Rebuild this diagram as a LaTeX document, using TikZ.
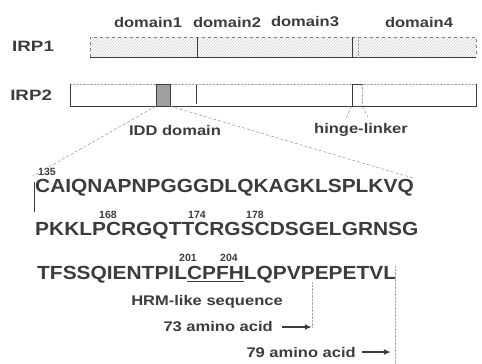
\documentclass[tikz,border=0pt]{standalone}
\usepackage{fontspec}
\setmainfont{Liberation Sans}
\usetikzlibrary{arrows.meta,positioning,patterns}
\definecolor{inkgray}{RGB}{60,60,60}

\begin{document}
\begin{tikzpicture}[x=1pt, y=-1pt,
  lbl/.style={font=\fontsize{14}{14}\selectfont\bfseries, text=inkgray, inner sep=0pt, xscale=1.18, transform shape},
  prot/.style={font=\fontsize{15}{15}\selectfont\bfseries, text=inkgray, inner sep=0pt, anchor=west, xscale=1.25, transform shape},
  seq/.style={font=\fontsize{19}{19}\selectfont\bfseries, text=inkgray, inner sep=0pt, anchor=west, xscale=1.1, transform shape},
  num/.style={font=\fontsize{10.5}{10.5}\selectfont\bfseries, text=inkgray, inner sep=0pt},
  zoomline/.style={densely dashed, gray, thin},
  guide/.style={densely dotted, gray!70, thin},
  a/.style={-{Latex[length=2.5mm,width=2mm]}, line width=1.6pt, inkgray}
]
\useasboundingbox (0,0) rectangle (482,364);

% domain labels
\node[lbl] (d1) at (148,22) {domain1};
\node[lbl] (d2) at (227,22) {domain2};
\node[lbl] (d3) at (305,22) {domain3};
\node[lbl] (d4) at (419,22) {domain4};

% IRP1 bar
\node[prot] (irp1) at (12,46) {IRP1};
\fill[pattern=north east lines, pattern color=gray!40] (90,37) rectangle (476,57);
\draw[gray, dashed] (90,57) -- (90,37) -- (476,37) -- (476,57);
\draw[inkgray] (90,57) -- (476,57);
\draw[inkgray] (197,37) -- (197,57);
\draw[inkgray] (352,37) -- (352,57);
\draw[guide] (358,37) -- (358,57);

% IRP2 bar
\node[prot] (irp2) at (10,95) {IRP2};
\draw[guide] (70,84) -- (476,84);
\draw[inkgray] (70,84) -- (70,106) -- (476,106) -- (476,84);
\draw[inkgray] (196,85) -- (196,104);
\node[draw=inkgray, fill=gray!75, minimum width=14pt, minimum height=22pt, inner sep=0pt] (idd) at (163,95) {};
\node[minimum width=10pt, minimum height=22pt, inner sep=0pt] (hinge) at (357,95) {};
\draw[inkgray] (hinge.south west) -- (hinge.north west) -- (hinge.north east);
\draw[guide] (hinge.north east) -- (hinge.south east);

% region labels
\node[lbl] (iddlbl) at (175,130) {IDD domain};
\node[lbl] (hingelbl) at (361,130) {hinge-linker};
\coordinate (h1) at (346,118);
\coordinate (h2) at (368,117);
\draw[zoomline] (hinge.south west) -- (h1);
\draw[zoomline] (hinge.south east) -- (h2);

% sequence
\node[num] (n135) at (47,172) {135};
\node[seq] (s1) at (35,188) {CAIQNAPNPGGGDLQKAGKLSPLKVQ};
\node[seq] (s2) at (35,231) {PKKLPCRGQTTCRGSCDSGELGRNSG};
\node[seq] (s3) at (37,275) {TFSSQIENTPIL\underline{CPFH}LQPVPEPETVL};
\node[num] (n168) at (108,215) {168};
\node[num] (n174) at (197,215) {174};
\node[num] (n178) at (255,215) {178};
\node[num] (n201) at (188,258) {201};
\node[num] (n204) at (229,258) {204};
\coordinate (bar1) at (34,182);
\coordinate (bar2) at (34,212);
\draw[inkgray] (bar1) -- (bar2);

% zoom lines
\coordinate (z1) at (33,176);
\coordinate (z2) at (413,178);
\draw[zoomline] (idd.south west) -- (z1);
\draw[zoomline] (idd.south east) -- (z2);

\node[lbl] (hrm) at (207,302) {HRM-like sequence};

% lengths
\node[lbl, anchor=east] (aa73) at (273,327) {73 amino acid};
\node[lbl, anchor=east] (aa79) at (356,352) {79 amino acid};
\coordinate (e73) at (312,327);
\coordinate (e79) at (391,352);
\draw[a, shorten <=9pt] (aa73.east) -- (e73);
\draw[a, shorten <=6pt] (aa79.east) -- (e79);
\coordinate (t73) at (312,282);
\coordinate (t79) at (395,266);
\coordinate (b79) at (395,364);
\draw[guide] (t73) -- (e73);
\draw[guide] (t79) -- (b79);
\end{tikzpicture}
\end{document}
